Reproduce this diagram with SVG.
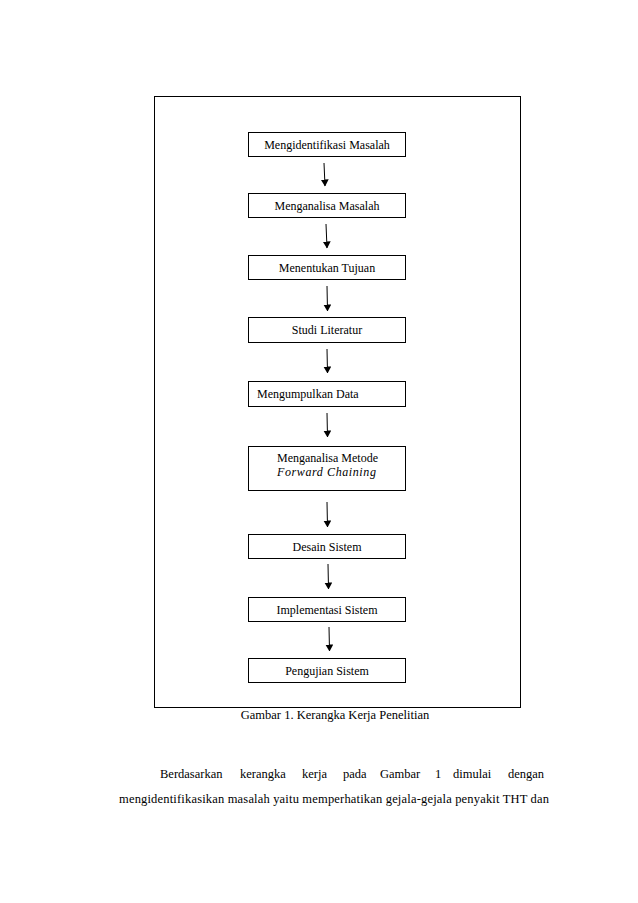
<svg xmlns="http://www.w3.org/2000/svg" width="638" height="903" viewBox="0 0 638 903">
<defs>
<marker id="ah" markerWidth="7" markerHeight="8" refX="6.5" refY="4" orient="auto" markerUnits="userSpaceOnUse">
<path d="M0,0 L7,4 L0,8 Z" fill="#000"/>
</marker>
<style>
.box{fill:#fff;stroke:#000;stroke-width:1}
.t{font-family:"Liberation Serif","Times New Roman",serif;font-size:12px;fill:#000}
.c{text-anchor:middle}
.conn line{stroke:#000;stroke-width:1;marker-end:url(#ah)}
.p{font-family:"Liberation Serif","Times New Roman",serif;font-size:12.5px;fill:#000}
</style>
</defs>
<rect width="638" height="903" fill="#fff"/>
<rect x="154.5" y="96.5" width="366" height="611" fill="none" stroke="#000" stroke-width="1"/>
<g id="n1"><rect class="box" x="248.5" y="132.5" width="157" height="24"/><text class="t c" x="327" y="149">Mengidentifikasi  Masalah</text></g>
<g id="n2"><rect class="box" x="248.5" y="193.5" width="157" height="24"/><text class="t c" x="327" y="210">Menganalisa  Masalah</text></g>
<g id="n3"><rect class="box" x="248.5" y="255.5" width="157" height="24"/><text class="t c" x="327" y="272">Menentukan Tujuan</text></g>
<g id="n4"><rect class="box" x="248.5" y="317.5" width="157" height="25"/><text class="t c" x="327" y="334">Studi Literatur</text></g>
<g id="n5"><rect class="box" x="248.5" y="381.5" width="157" height="25"/><text class="t" x="257" y="398">Mengumpulkan  Data</text></g>
<g id="n6"><rect class="box" x="248.5" y="446.5" width="157" height="44"/><text class="t" x="277" y="462">Menganalisa Metode</text><text class="t" x="277" y="476" font-style="italic" letter-spacing="0.6">Forward Chaining</text></g>
<g id="n7"><rect class="box" x="248.5" y="534.5" width="157" height="24"/><text class="t c" x="327" y="551">Desain Sistem</text></g>
<g id="n8"><rect class="box" x="248.5" y="597.5" width="157" height="24"/><text class="t c" x="327" y="614">Implementasi  Sistem</text></g>
<g id="n9"><rect class="box" x="248.5" y="658.5" width="157" height="24"/><text class="t c" x="327" y="675">Pengujian Sistem</text></g>
<g id="connectors" class="conn">
<line x1="324" y1="163" x2="325" y2="186"/>
<line x1="326" y1="224" x2="327" y2="248"/>
<line x1="327" y1="286" x2="327.5" y2="311"/>
<line x1="327" y1="349" x2="327.5" y2="373"/>
<line x1="327" y1="413" x2="327.5" y2="437"/>
<line x1="327" y1="502" x2="327.5" y2="527"/>
<line x1="328" y1="564" x2="328.5" y2="589"/>
<line x1="329" y1="627" x2="329.5" y2="651"/>
</g>
<text class="p c" x="335" y="719">Gambar  1. Kerangka  Kerja Penelitian</text>
<text class="p" y="778"><tspan x="160">Berdasarkan</tspan><tspan x="240">kerangka</tspan><tspan x="302">kerja</tspan><tspan x="343">pada</tspan><tspan x="380">Gambar</tspan><tspan x="435">1</tspan><tspan x="453">dimulai</tspan><tspan x="508">dengan</tspan></text>
<text class="p" x="119" y="803" textLength="430" lengthAdjust="spacing">mengidentifikasikan masalah yaitu memperhatikan gejala-gejala penyakit THT dan</text>
</svg>
